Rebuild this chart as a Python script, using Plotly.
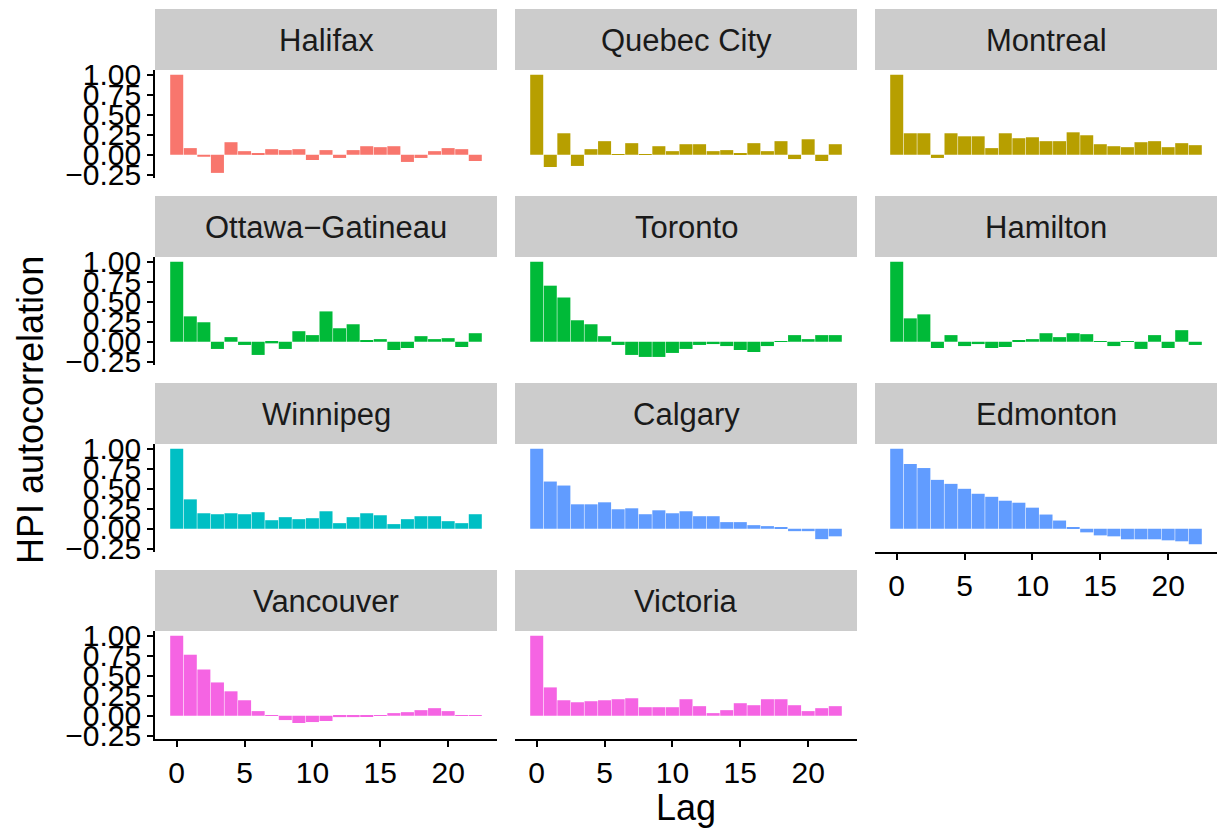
import plotly.graph_objects as go

# Autocorrelation of the house price index by city, lags 0-22
lags = list(range(23))

cities = ["Halifax", "Quebec City", "Montreal",
          "Ottawa\u2212Gatineau", "Toronto", "Hamilton",
          "Winnipeg", "Calgary", "Edmonton",
          "Vancouver", "Victoria"]

halifax = [1.0, 0.083, -0.025, -0.227, 0.157, 0.045, 0.01, 0.07, 0.058, 0.07, -0.066, 0.058,
           -0.04, 0.058, 0.107, 0.095, 0.107, -0.09, -0.04, 0.045, 0.083, 0.07, -0.078]
quebec_city = [1.0, -0.153, 0.269, -0.14, 0.07, 0.17, 0.008, 0.145, 0.008, 0.107, 0.045, 0.132,
               0.132, 0.045, 0.058, 0.02, 0.145, 0.045, 0.17, -0.054, 0.194, -0.078, 0.132]
montreal = [1.0, 0.269, 0.269, -0.04, 0.269, 0.231, 0.231, 0.083, 0.269, 0.207, 0.219, 0.17,
            0.17, 0.281, 0.244, 0.132, 0.107, 0.095, 0.157, 0.17, 0.095, 0.145, 0.12]
ottawa_gatineau = [1.0, 0.318, 0.244, -0.09, 0.058, -0.04, -0.165, -0.02, -0.09, 0.132, 0.083, 0.38,
                   0.169, 0.219, 0.02, 0.033, -0.103, -0.078, 0.07, 0.033, 0.045, -0.066, 0.107]
toronto = [1.0, 0.702, 0.554, 0.269, 0.219, 0.07, -0.04, -0.165, -0.19, -0.19, -0.14, -0.09,
           -0.04, -0.029, -0.054, -0.103, -0.128, -0.054, 0.008, 0.083, 0.033, 0.083, 0.083]
hamilton = [1.0, 0.293, 0.343, -0.078, 0.083, -0.054, -0.029, -0.078, -0.066, 0.02, 0.033, 0.107,
            0.058, 0.107, 0.095, 0.008, -0.054, 0.008, -0.09, 0.083, -0.078, 0.145, -0.04]
winnipeg = [1.0, 0.368, 0.194, 0.182, 0.194, 0.182, 0.207, 0.107, 0.145, 0.12, 0.132, 0.219,
            0.07, 0.145, 0.194, 0.169, 0.058, 0.12, 0.157, 0.157, 0.095, 0.07, 0.182]
calgary = [1.0, 0.591, 0.541, 0.306, 0.306, 0.331, 0.244, 0.256, 0.182, 0.231, 0.194, 0.219,
           0.157, 0.157, 0.083, 0.083, 0.045, 0.033, 0.02, -0.03, -0.03, -0.13, -0.095]
edmonton = [1.0, 0.81, 0.76, 0.612, 0.562, 0.5, 0.438, 0.40, 0.351, 0.326, 0.264, 0.178,
            0.103, 0.017, -0.045, -0.083, -0.095, -0.132, -0.132, -0.132, -0.145, -0.157, -0.194]
vancouver = [1.0, 0.764, 0.579, 0.417, 0.306, 0.194, 0.058, 0.008, -0.054, -0.091, -0.079, -0.066,
             -0.017, -0.017, -0.005, 0.005, 0.033, 0.045, 0.07, 0.095, 0.058, 0.008, 0.008]
victoria = [1.0, 0.355, 0.194, 0.169, 0.182, 0.194, 0.207, 0.219, 0.107, 0.107, 0.107, 0.207,
            0.12, 0.033, 0.07, 0.157, 0.132, 0.207, 0.207, 0.132, 0.058, 0.095, 0.12]

series = [halifax, quebec_city, montreal, ottawa_gatineau, toronto, hamilton,
          winnipeg, calgary, edmonton, vancouver, victoria]

# one colour per province
colors = ["#F8766D", "#B79F00", "#B79F00",
          "#00BA38", "#00BA38", "#00BA38",
          "#00BFC4", "#619CFF", "#619CFF",
          "#F564E3", "#F564E3"]

y_ticks = [1.0, 0.75, 0.5, 0.25, 0.0, -0.25]
y_tick_text = ["1.00", "0.75", "0.50", "0.25", "0.00", "\u22120.25"]
x_ticks = [0, 5, 10, 15, 20]

W, H = 1224, 838
col_x = [(155, 497), (515, 857), (875, 1217)]
row_strip = [(9, 70), (196, 257), (383, 444), (570, 631)]
row_panel = [(70, 178), (257, 365), (444, 552), (631, 739)]

FONT = "Liberation Sans, Arial, sans-serif"
TICK_SIZE = 30
STRIP_SIZE = 31
TITLE_SIZE = 36

fig = go.Figure()
shapes = []
annotations = []
layout_axes = {}

for i, (name, vals, col) in enumerate(zip(cities, series, colors)):
    r, c = divmod(i, 3)
    n = i + 1
    xa = "x" if n == 1 else f"x{n}"
    ya = "y" if n == 1 else f"y{n}"
    fig.add_trace(go.Bar(x=lags, y=vals, marker=dict(color=col, line=dict(width=0)),
                         xaxis=xa, yaxis=ya, showlegend=False, name=name))
    x0, x1 = col_x[c]
    p0, p1 = row_panel[r]
    bottom = (r == 3) or (r == 2 and c == 2)
    left = (c == 0)
    layout_axes["xaxis" if n == 1 else f"xaxis{n}"] = dict(
        domain=[x0 / W, x1 / W], anchor=ya, range=[-1.6, 23.6], automargin=False,
        showgrid=False, zeroline=False,
        showline=bottom, linecolor="black", linewidth=1.6,
        ticks="outside" if bottom else "", ticklen=6, tickwidth=1.6, tickcolor="black",
        tickvals=x_ticks, showticklabels=bottom,
        tickfont=dict(family=FONT, size=TICK_SIZE, color="black"),
    )
    layout_axes["yaxis" if n == 1 else f"yaxis{n}"] = dict(
        domain=[1 - p1 / H, 1 - p0 / H], anchor=xa, range=[-0.291, 1.061], automargin=False,
        showgrid=False, zeroline=False,
        showline=left, linecolor="black", linewidth=1.6,
        ticks="outside" if left else "", ticklen=6, tickwidth=1.6, tickcolor="black",
        tickvals=y_ticks, ticktext=y_tick_text, showticklabels=left,
        tickfont=dict(family=FONT, size=TICK_SIZE, color="black"),
    )
    s0, s1 = row_strip[r]
    shapes.append(dict(type="rect", xref="paper", yref="paper",
                       x0=x0 / W, x1=x1 / W, y0=1 - s1 / H, y1=1 - s0 / H,
                       fillcolor="#CCCCCC", line=dict(width=0), layer="below"))
    annotations.append(dict(text=name, xref="paper", yref="paper",
                            x=(x0 + x1) / 2 / W, y=1 - (s0 + s1 + 2) / 2 / H,
                            xanchor="center", yanchor="middle", showarrow=False,
                            font=dict(family=FONT, size=STRIP_SIZE, color="#1A1A1A")))

annotations.append(dict(text="HPI autocorrelation", xref="paper", yref="paper",
                        x=30 / W, y=1 - 410 / H, textangle=-90,
                        xanchor="center", yanchor="middle", showarrow=False,
                        font=dict(family=FONT, size=TITLE_SIZE, color="black")))
annotations.append(dict(text="Lag", xref="paper", yref="paper",
                        x=686 / W, y=1 - 807 / H,
                        xanchor="center", yanchor="middle", showarrow=False,
                        font=dict(family=FONT, size=TITLE_SIZE, color="black")))

fig.update_layout(
    template="none",
    width=W, height=H, margin=dict(l=0, r=0, t=0, b=0, pad=0), autosize=False,
    paper_bgcolor="white", plot_bgcolor="white",
    bargap=0.04, shapes=shapes, annotations=annotations,
    **layout_axes,
)

fig.write_html("out.html")
